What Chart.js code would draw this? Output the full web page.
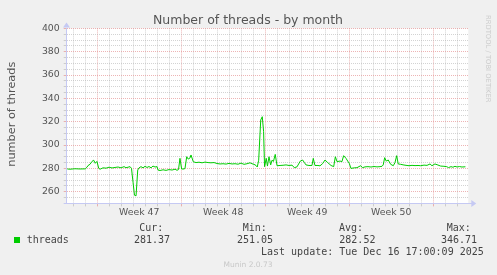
<!DOCTYPE html>
<html><head><meta charset="utf-8">
<script src="https://cdn.jsdelivr.net/npm/chart.js@4/dist/chart.umd.min.js"></script>
<style>html,body{margin:0;padding:0;background:#f0f0f0;overflow:hidden}canvas{display:block}</style>
</head><body><canvas id="c" width="497" height="275"></canvas>
<script>
// x values: days since Monday of Week 47 (00:00)
const days = [-2.50,-2.28,-1.86,-1.44,-1.00,-0.86,-0.78,-0.61,-0.44,-0.30,-0.17,-0.03,0.12,0.23,0.48,0.73,0.98,1.23,1.48,1.73,1.98,2.23,2.39,2.56,2.73,2.85,2.98,3.10,3.23,3.37,3.48,3.64,3.81,3.98,4.14,4.31,4.48,4.64,4.81,4.98,5.06,5.23,5.48,5.73,5.98,6.23,6.48,6.64,6.77,6.89,7.03,7.23,7.31,7.45,7.58,7.73,7.81,8.00,8.23,8.48,8.73,8.98,9.23,9.48,9.73,9.98,10.23,10.48,10.73,10.98,11.23,11.48,11.73,11.98,12.23,12.48,12.73,12.89,13.06,13.23,13.33,13.45,13.62,13.75,13.86,13.94,14.08,14.18,14.31,14.45,14.56,14.68,14.83,14.98,15.23,15.48,15.73,15.98,16.23,16.42,16.64,16.92,17.11,17.26,17.39,17.64,17.89,18.00,18.14,18.39,18.56,18.77,18.98,19.20,19.48,19.70,19.84,19.98,20.23,20.39,20.53,20.73,20.87,21.00,21.14,21.42,21.64,21.95,22.10,22.31,22.56,22.81,23.06,23.31,23.56,23.73,23.83,23.95,24.08,24.25,24.45,24.67,24.81,24.95,25.08,25.28,25.56,25.81,25.98,26.23,26.48,26.73,26.95,27.23,27.48,27.73,27.89,28.14,28.39,28.62,28.89,29.12,29.27,29.48,29.64,29.81,29.98,30.18,30.39,30.68];
const threads = [279.5,279.3,279.7,279.5,279.6,281,282.4,283.5,286,287,284.4,286,280,279.3,280.5,280.2,281,280.4,280.8,281.2,280.5,281.5,280.6,281,281.5,280,268,257,256.5,278.6,280.5,281.5,280.5,281.8,280.8,281.6,280.5,282,281.2,281.5,278.6,278.2,278.8,278.3,279,278.6,279.3,278.4,279,288.6,279.5,279.5,280,290,288,289,291.5,285.7,285,285.3,284.8,285.4,285,284.8,285,284.2,283.8,284,283.7,284.3,283.8,284,283.6,284.5,283.5,284,284.8,284,283.5,282.5,281.2,287,321.5,324.3,311.5,281.5,288.6,282,290,283,287,286,292,282.3,282.5,282.7,283,282.5,282.8,280.6,281.3,286.3,287.2,285,283,282.5,282.5,288.6,282.5,282.5,282.2,284,287.2,285,282.5,281.5,290,285.8,286.3,285.8,290.9,288.6,286.3,284.3,280,280.5,280.6,282.3,280.6,281.3,281.5,281.2,281.6,281.3,281.5,281.8,283,289.2,286.3,287.2,283.5,282.3,285,290.9,283.8,283.5,282.9,282.5,282.3,282.6,282.4,282.5,282.3,282.8,282.6,283.8,282.3,283.8,282.9,282,281.8,281.5,280.7,281.5,281,281.8,281.2,281.6,281.2,281.4];
const weekStarts = [0, 7, 14, 21];
const weekLabels = ['Week 47', 'Week 48', 'Week 49', 'Week 50'];
const yLabelValues = [260, 280, 300, 320, 340, 360, 380, 400];
const statNames = ['Cur:', 'Min:', 'Avg:', 'Max:'];
const statValues = ['281.37', '251.05', '282.52', '346.71'];
const seriesName = 'threads';
const chartTitle = 'Number of threads - by month';
const yTitle = 'number of threads';
const lastUpdate = 'Last update: Tue Dec 16 17:00:09 2025';
const footer = 'Munin 2.0.73';
const watermark = 'RRDTOOL / TOBI OETIKER';

const X_MIN = -2.55, X_MAX = 30.92, Y_MIN = 250, Y_MAX = 400;
const RED = 'rgba(228,140,140,0.65)', GRAY = 'rgba(175,175,175,0.55)', AXIS = '#c5c9f3', GREEN = '#00cc00';
const SANS = "'DejaVu Sans', sans-serif", MONO = "'DejaVu Sans Mono', monospace";

const decor = {
  id: 'decor',
  beforeDraw(chart) {
    const c = chart.ctx, a = chart.chartArea;
    c.save();
    c.fillStyle = '#f0f0f0'; c.fillRect(0, 0, chart.width, chart.height);
    c.fillStyle = '#ffffff'; c.fillRect(a.left, a.top, a.right - a.left, a.bottom - a.top);
    c.restore();
  },
  afterDraw(chart) {
    const c = chart.ctx, a = chart.chartArea;
    c.save();
    // axis arrows
    c.strokeStyle = AXIS; c.fillStyle = AXIS; c.lineWidth = 1;
    const by = Math.round(a.bottom) + 0.5;
    c.beginPath(); c.moveTo(a.right, by); c.lineTo(a.right + 4, by); c.stroke();
    c.beginPath(); c.moveTo(a.right + 3, by - 3.5); c.lineTo(a.right + 8, by); c.lineTo(a.right + 3, by + 3.5); c.closePath(); c.fill();
    const ax = Math.floor(a.left) + 0.5;
    c.beginPath(); c.moveTo(ax - 3.5, a.top - 1); c.lineTo(ax, a.top - 6); c.lineTo(ax + 3.5, a.top - 1); c.closePath(); c.fill();
    // title
    c.fillStyle = '#555'; c.font = '12.5px ' + SANS; c.textAlign = 'center'; c.textBaseline = 'alphabetic';
    c.fillText(chartTitle, 248, 24);
    // y title
    c.save(); c.translate(14.7, 114.2); c.rotate(-Math.PI / 2);
    c.font = '11.3px ' + SANS; c.fillText(yTitle, 0, 0); c.restore();
    // watermark
    c.save(); c.translate(485.5, 15); c.rotate(Math.PI / 2);
    c.fillStyle = '#cccccc'; c.font = '6.8px ' + SANS; c.textAlign = 'left'; c.fillText(watermark, 0, 0); c.restore();
    // legend
    c.fillStyle = GREEN; c.fillRect(14, 237, 6, 6);
    c.fillStyle = '#444'; c.font = '10px ' + MONO; c.textAlign = 'left';
    c.fillText(seriesName, 26.7, 242.7);
    const nameX = [139.3, 242.7, 339, 446.7];
    const valX = [134, 237, 339.3, 441];
    statNames.forEach((n, i) => c.fillText(n, nameX[i], 231));
    statValues.forEach((v, i) => c.fillText(v, valX[i], 242.7));
    c.fillText(lastUpdate, 261, 254.5);
    c.fillStyle = '#c8c8c8'; c.font = '7.5px ' + SANS; c.textAlign = 'center';
    c.fillText(footer, 248, 267);
    c.restore();
  }
};

new Chart(document.getElementById('c'), {
  type: 'line',
  data: {
    datasets: [{
      label: seriesName,
      data: days.map((d, i) => ({ x: d, y: threads[i] })),
      borderColor: GREEN, borderWidth: 1, pointRadius: 0, tension: 0, fill: false
    }]
  },
  options: {
    responsive: false, animation: false, devicePixelRatio: 1,
    layout: { padding: { left: 0, right: 28.7, top: 28.4, bottom: 51.6 } },
    plugins: { legend: { display: false }, title: { display: false }, tooltip: { enabled: false } },
    scales: {
      x: {
        type: 'linear', min: X_MIN, max: X_MAX,
        afterBuildTicks(s) {
          const t = [];
          for (let d = Math.ceil(X_MIN); d <= Math.floor(X_MAX); d++) t.push({ value: d });
          weekStarts.forEach(w => t.push({ value: w + 3.5 }));
          t.sort((p, q) => p.value - q.value);
          s.ticks = t;
        },
        afterFit(s) { s.height = 20; },
        grid: {
          color: ctx => { const v = ctx.tick && ctx.tick.value; if (v === undefined || v % 1 !== 0) return 'rgba(0,0,0,0)'; return v % 7 === 0 ? RED : GRAY; },
          tickColor: ctx => { const v = ctx.tick && ctx.tick.value; if (v === undefined || v % 1 !== 0) return 'rgba(0,0,0,0)'; return v % 7 === 0 ? RED : GRAY; },
          lineWidth: 1, tickLength: 3
        },
        border: { color: AXIS, width: 1, dash: [1, 1] },
        ticks: {
          autoSkip: false, maxRotation: 0, minRotation: 0, padding: 1,
          color: '#555', font: { family: SANS, size: 9.33 },
          callback: v => { const i = weekStarts.findIndex(w => Math.abs(w + 3.5 - v) < 1e-6); return i >= 0 ? weekLabels[i] : ''; }
        }
      },
      y: {
        type: 'linear', min: Y_MIN, max: Y_MAX,
        afterBuildTicks(s) { const t = []; for (let v = Y_MIN; v <= Y_MAX; v += 5) t.push({ value: v }); s.ticks = t; },
        afterFit(s) { s.width = 66.7; },
        grid: {
          color: ctx => { const v = ctx.tick && ctx.tick.value; if (v === Y_MIN) return 'rgba(0,0,0,0)'; return v % 20 === 0 ? RED : GRAY; },
          tickColor: ctx => { const v = ctx.tick && ctx.tick.value; if (v === Y_MIN) return AXIS; return v % 20 === 0 ? RED : GRAY; },
          lineWidth: 1, tickLength: 3
        },
        border: { color: AXIS, width: 1, dash: [1, 1] },
        ticks: {
          autoSkip: false, padding: 4, color: '#555', font: { family: SANS, size: 9.33 },
          callback: v => yLabelValues.includes(v) ? String(v) : ''
        }
      }
    }
  },
  plugins: [decor]
});
</script></body></html>
